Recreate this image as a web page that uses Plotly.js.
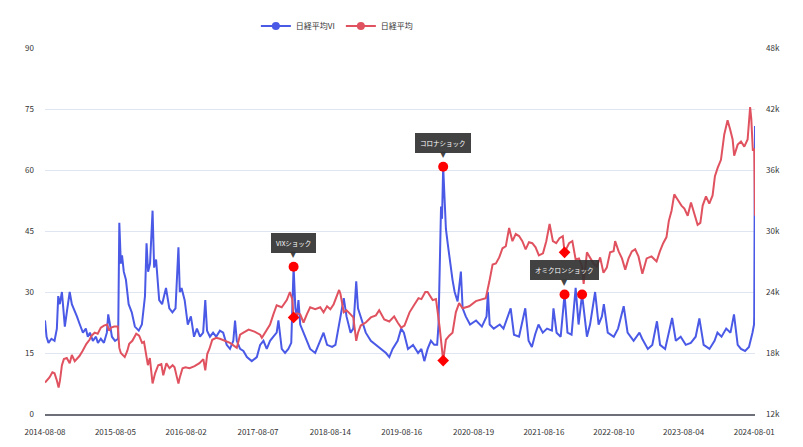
<!DOCTYPE html>
<html>
<head>
<meta charset="utf-8">
<script src="https://cdn.plot.ly/plotly-3.0.1.min.js"></script>
<style>
  html, body { margin: 0; padding: 0; background: #fff; }
  #chart { width: 803px; height: 447px; }
</style>
</head>
<body>
<div id="chart"></div>
<script>
// ---- Data ----
const seriesNames = ["日経平均VI", "日経平均"];

const viDates = ["2014-08-08","2014-08-16","2014-08-26","2014-09-10","2014-09-26","2014-10-08","2014-10-15","2014-10-23","2014-11-03","2014-11-10","2014-11-18","2014-11-28","2014-12-13","2014-12-24","2015-01-03","2015-01-19","2015-02-03","2015-02-19","2015-03-06","2015-03-16","2015-03-27","2015-04-11","2015-04-27","2015-05-07","2015-05-22","2015-06-07","2015-06-22","2015-06-29","2015-07-08","2015-07-18","2015-08-03","2015-08-19","2015-08-25","2015-09-02","2015-09-08","2015-09-17","2015-09-28","2015-10-12","2015-10-28","2015-11-13","2015-12-03","2015-12-19","2016-01-04","2016-01-12","2016-01-20","2016-01-30","2016-02-12","2016-02-20","2016-03-01","2016-03-17","2016-04-01","2016-04-21","2016-05-08","2016-05-24","2016-06-09","2016-06-24","2016-07-01","2016-07-10","2016-07-26","2016-08-11","2016-08-27","2016-09-12","2016-09-27","2016-10-13","2016-10-29","2016-11-09","2016-11-18","2016-12-03","2016-12-19","2017-01-04","2017-01-23","2017-02-09","2017-02-27","2017-03-16","2017-04-02","2017-04-11","2017-04-20","2017-05-07","2017-05-24","2017-06-11","2017-07-06","2017-08-01","2017-08-18","2017-09-04","2017-09-21","2017-10-08","2017-10-25","2017-11-11","2017-11-20","2017-12-07","2017-12-24","2018-01-10","2018-01-25","2018-02-06","2018-02-15","2018-02-23","2018-03-03","2018-03-12","2018-03-29","2018-04-15","2018-05-02","2018-05-28","2018-06-23","2018-07-10","2018-07-28","2018-08-23","2018-09-09","2018-10-05","2018-10-22","2018-11-05","2018-11-26","2018-12-10","2018-12-25","2019-01-03","2019-01-17","2019-02-12","2019-03-10","2019-04-05","2019-05-01","2019-05-27","2019-06-13","2019-06-30","2019-07-26","2019-08-13","2019-08-27","2019-09-17","2019-10-13","2019-11-08","2019-11-25","2019-12-10","2019-12-27","2020-01-13","2020-01-30","2020-02-14","2020-02-21","2020-02-28","2020-03-05","2020-03-10","2020-03-16","2020-03-24","2020-03-30","2020-04-08","2020-04-20","2020-05-03","2020-05-14","2020-05-29","2020-06-15","2020-06-24","2020-07-10","2020-08-01","2020-09-01","2020-10-01","2020-10-25","2020-11-01","2020-11-10","2020-12-01","2021-01-01","2021-01-20","2021-02-26","2021-03-15","2021-04-10","2021-05-12","2021-05-29","2021-06-15","2021-07-02","2021-07-19","2021-08-10","2021-09-01","2021-09-26","2021-10-04","2021-10-20","2021-11-10","2021-11-30","2021-12-15","2022-01-05","2022-01-26","2022-02-10","2022-02-28","2022-03-25","2022-04-10","2022-05-06","2022-05-24","2022-06-10","2022-06-20","2022-07-10","2022-08-10","2022-09-01","2022-09-30","2022-10-20","2022-11-20","2022-12-20","2023-01-03","2023-02-01","2023-02-24","2023-03-20","2023-04-05","2023-05-01","2023-06-06","2023-06-25","2023-07-20","2023-08-15","2023-09-10","2023-10-05","2023-10-24","2023-11-15","2023-12-15","2024-01-10","2024-01-25","2024-02-15","2024-03-10","2024-04-01","2024-04-19","2024-05-08","2024-05-25","2024-06-15","2024-07-05","2024-07-23","2024-07-31","2024-08-01","2024-08-02","2024-08-05"];
const viValues = [23,19,17.5,18.5,18,21,29,27,30,26,21.5,25,30,27,26,24,22,20,21,19,20,18,19,17.5,18.5,17.5,20,24.5,22,19,18,18.5,47,37,39,35,33,27,25,21.5,20.5,22,29,42,35,37,50,36,38,28,27,31,26,25,26,41,30,31,28,22,24,19,21,19,20,28,20.5,19,20,19,20.5,20,17,16,18,23,18,16,15.5,14,13,14,17,18,16,18,19,20,23,16,15,16,17.5,36.2,26,24,28,22,20,18,16,15,18,20,17,16.5,17,23.6,28.5,24,20,21,32.6,26,24,20,18,17,16,15,14,16,18,21,20,16,17,15,16,13,16,18,17,17,22,43,51,48,60.8,52,45.5,42,37,33,30,27.7,35,26,24,22,23,21.5,24,30,22,21,22,21,26,19.5,19,26,18,16.5,19.6,22,20,21,20.5,26,20,19,29.4,20,19.5,31,22,29.4,19,22,30,22,24,27,20,19,21,26.5,20,18,20,18.5,16,17,22.8,17,16,23.6,18,19,17,17.5,19,23.5,17,16,18,20,19,21,20,24.5,17,16,15.5,16.5,20,22,24,35,70.8];

const nkDates = ["2014-08-08","2014-08-31","2014-09-15","2014-09-26","2014-10-08","2014-10-17","2014-10-24","2014-11-03","2014-11-13","2014-11-28","2014-12-13","2014-12-24","2015-01-08","2015-01-24","2015-02-01","2015-02-17","2015-03-09","2015-03-25","2015-04-04","2015-04-20","2015-05-06","2015-05-22","2015-06-07","2015-06-23","2015-07-04","2015-07-14","2015-07-30","2015-08-17","2015-08-25","2015-09-02","2015-09-22","2015-10-05","2015-10-15","2015-10-31","2015-11-20","2015-12-05","2015-12-20","2015-12-30","2016-01-08","2016-01-19","2016-01-29","2016-02-12","2016-02-25","2016-03-12","2016-03-28","2016-04-07","2016-04-23","2016-05-09","2016-05-25","2016-06-04","2016-06-15","2016-06-24","2016-07-01","2016-07-15","2016-07-30","2016-08-20","2016-09-15","2016-10-10","2016-10-30","2016-11-09","2016-11-19","2016-11-30","2016-12-15","2017-01-04","2017-01-23","2017-02-18","2017-03-16","2017-04-20","2017-05-07","2017-05-24","2017-06-20","2017-07-20","2017-08-18","2017-08-27","2017-09-21","2017-10-08","2017-10-25","2017-11-11","2017-12-07","2018-01-02","2018-01-18","2018-01-30","2018-02-06","2018-02-23","2018-03-12","2018-03-29","2018-04-15","2018-05-02","2018-05-28","2018-06-23","2018-07-10","2018-07-28","2018-08-14","2018-08-31","2018-09-28","2018-10-05","2018-10-22","2018-11-05","2018-11-26","2018-12-10","2018-12-25","2019-01-03","2019-01-17","2019-02-12","2019-03-10","2019-04-05","2019-04-22","2019-05-18","2019-06-13","2019-07-08","2019-07-26","2019-08-13","2019-08-30","2019-09-25","2019-10-21","2019-11-10","2019-11-25","2019-12-15","2019-12-27","2020-01-22","2020-02-08","2020-02-27","2020-03-16","2020-03-30","2020-04-16","2020-05-03","2020-05-20","2020-06-06","2020-06-24","2020-07-28","2020-08-31","2020-10-04","2020-10-21","2020-11-08","2020-11-25","2020-12-12","2020-12-29","2021-01-15","2021-02-01","2021-02-18","2021-03-07","2021-03-24","2021-04-10","2021-04-27","2021-05-14","2021-05-31","2021-06-17","2021-07-04","2021-07-21","2021-08-11","2021-08-28","2021-09-14","2021-10-01","2021-10-18","2021-11-04","2021-11-21","2021-11-30","2021-12-23","2022-01-09","2022-01-26","2022-02-12","2022-02-28","2022-03-08","2022-03-25","2022-04-11","2022-04-28","2022-05-15","2022-06-01","2022-06-18","2022-07-05","2022-07-22","2022-08-09","2022-08-17","2022-09-04","2022-09-21","2022-10-08","2022-10-25","2022-11-11","2022-11-28","2022-12-15","2023-01-04","2023-01-26","2023-02-20","2023-03-18","2023-04-04","2023-04-21","2023-05-08","2023-05-20","2023-06-03","2023-06-17","2023-07-04","2023-07-24","2023-08-08","2023-08-25","2023-09-11","2023-09-28","2023-10-15","2023-10-29","2023-11-10","2023-11-27","2023-12-14","2023-12-31","2024-01-12","2024-01-26","2024-02-12","2024-02-29","2024-03-17","2024-03-30","2024-04-12","2024-04-20","2024-05-08","2024-05-25","2024-06-11","2024-06-28","2024-07-11","2024-07-17","2024-07-25","2024-08-01","2024-08-02","2024-08-05"];
const nkValues = [15100,15600,16100,16000,15300,14600,15300,16800,17400,17500,17000,17800,17200,17500,17700,18200,18900,19300,19700,20000,19900,20500,20700,20800,20200,20500,20600,20600,18500,18000,17600,18200,18900,19200,19900,19700,19000,19100,18000,16800,17500,15000,16000,16800,16900,15800,17000,16500,16800,16600,15700,15000,15600,16500,16600,16500,16700,17000,17400,16300,17900,18400,19300,19500,19400,19200,19000,18500,19800,20000,20300,20100,19800,19500,20300,20800,21800,22700,22500,23200,24000,23300,21500,21900,21800,21000,21800,22500,22300,22500,22000,22600,22300,22800,24200,23800,22000,22200,21800,21500,19200,20000,20700,21000,21500,21700,22200,21300,21100,21600,21000,20500,20700,22000,22800,23400,23300,24000,24000,23200,23300,20500,17250,19300,19700,20000,22000,22900,22400,22600,23100,23300,23400,25000,26700,26800,27400,28300,28500,30300,29000,29700,29500,29000,28200,28900,28800,28400,27600,27800,29000,30700,29000,28800,29300,29500,27900,28800,29000,27200,27300,26500,24800,27900,27300,26800,26500,27400,25900,26400,27900,28000,29000,28000,27300,26200,27300,28000,28200,27500,25800,27300,27500,27000,28000,28800,29400,31000,32000,33600,33100,32500,32200,31500,32800,31800,30600,30800,32500,33400,32700,33500,35400,36200,37000,39500,40900,40000,39000,37400,38500,38800,38300,39000,42200,41000,37900,38100,35900,31500];

// event markers
const circleDates = ["2018-02-06","2020-03-16","2021-11-30","2022-02-28"];
const circleVI    = [36.2, 60.8, 29.4, 29.4];
const diamondDates = ["2018-02-06","2020-03-16","2021-11-30"];
const diamondNK    = [21500, 17250, 27900];
const eventDates  = ["2018-02-06","2020-03-16","2021-11-30"];
const eventVI     = [36.2, 60.8, 29.4];
const eventLabels = ["VIXショック","コロナショック","オミクロンショック"];

// axis ticks
const xTickDates = ["2014-08-08","2015-08-05","2016-08-02","2017-08-07","2018-08-14","2019-08-16","2020-08-19","2021-08-16","2022-08-10","2023-08-04","2024-08-01"];
const viTicks = [0,15,30,45,60,75,90];
const nkTicks = [12000,18000,24000,30000,36000,42000,48000];
const nkTickText = ["12k","18k","24k","30k","36k","42k","48k"];

// ---- Styling ----
const BLUE = "#4A5AE6";
const RED = "#E0525F";
const FONT = "'Noto Sans CJK JP', 'Noto Sans', sans-serif";
const TIP = "rgba(50,50,50,0.92)";

const traces = [
  { x: viDates, y: viValues, type: "scatter", mode: "lines", name: seriesNames[0],
    line: { color: BLUE, width: 2 }, yaxis: "y", showlegend: false, hoverinfo: "skip" },
  { x: nkDates, y: nkValues, type: "scatter", mode: "lines", name: seriesNames[1],
    line: { color: RED, width: 2 }, yaxis: "y2", showlegend: false, hoverinfo: "skip" },
  { x: circleDates, y: circleVI, type: "scatter", mode: "markers", yaxis: "y",
    marker: { color: "#FF0000", size: 10, symbol: "circle" }, showlegend: false, hoverinfo: "skip" },
  { x: diamondDates, y: diamondNK, type: "scatter", mode: "markers", yaxis: "y2",
    marker: { color: "#FF0000", size: 9, symbol: "diamond" }, showlegend: false, hoverinfo: "skip" },
  // legend entries
  { x: [null], y: [null], type: "scatter", mode: "lines+markers", name: seriesNames[0],
    line: { color: BLUE, width: 2 }, marker: { color: BLUE, size: 8, symbol: "circle" }, yaxis: "y" },
  { x: [null], y: [null], type: "scatter", mode: "lines+markers", name: seriesNames[1],
    line: { color: RED, width: 2 }, marker: { color: RED, size: 8, symbol: "circle" }, yaxis: "y2" }
];

const annotations = [];
eventDates.forEach((d, i) => {
  annotations.push({
    x: d, y: eventVI[i], xref: "x", yref: "y", text: eventLabels[i], showarrow: false,
    yshift: 24, bgcolor: TIP, borderpad: 5, borderwidth: 0,
    font: { family: FONT, size: 6.5, color: "#ffffff" }
  });
  annotations.push({
    x: d, y: eventVI[i], xref: "x", yref: "y", text: "▼", showarrow: false,
    yshift: 12, font: { family: "DejaVu Sans", size: 8, color: TIP }
  });
});

const layout = {
  width: 803, height: 447,
  margin: { l: 45, r: 48, t: 44, b: 33 },
  paper_bgcolor: "#ffffff", plot_bgcolor: "#ffffff",
  font: { family: FONT, size: 9, color: "#333333" },
  showlegend: true,
  legend: { orientation: "h", x: 0.297, xanchor: "left", y: 1.06, yanchor: "middle",
            font: { family: FONT, size: 8, color: "#333333" }, itemwidth: 30,
            entrywidth: 40, entrywidthmode: "pixels", bgcolor: "rgba(0,0,0,0)" },
  xaxis: {
    type: "date", range: ["2014-08-08", "2024-08-05"],
    tickvals: xTickDates, ticktext: xTickDates,
    showgrid: false, zeroline: false, showline: true, linecolor: "#6E7079", linewidth: 1.5,
    ticks: "", ticklabelstandoff: 10, tickfont: { size: 8, color: "#333333" }
  },
  yaxis: {
    range: [0, 90], tickvals: viTicks, showgrid: true, gridcolor: "#E0E6F1", gridwidth: 1,
    zeroline: false, showline: false, ticks: "", ticklabelstandoff: 10,
    tickfont: { size: 8, color: "#333333" }
  },
  yaxis2: {
    overlaying: "y", side: "right", range: [12000, 48000],
    tickvals: nkTicks, ticktext: nkTickText, showgrid: false, zeroline: false, showline: false,
    ticks: "", ticklabelstandoff: 10, tickfont: { size: 8, color: "#333333" }
  },
  annotations: annotations
};

Plotly.newPlot("chart", traces, layout, { staticPlot: true, displayModeBar: false });
</script>
</body>
</html>
